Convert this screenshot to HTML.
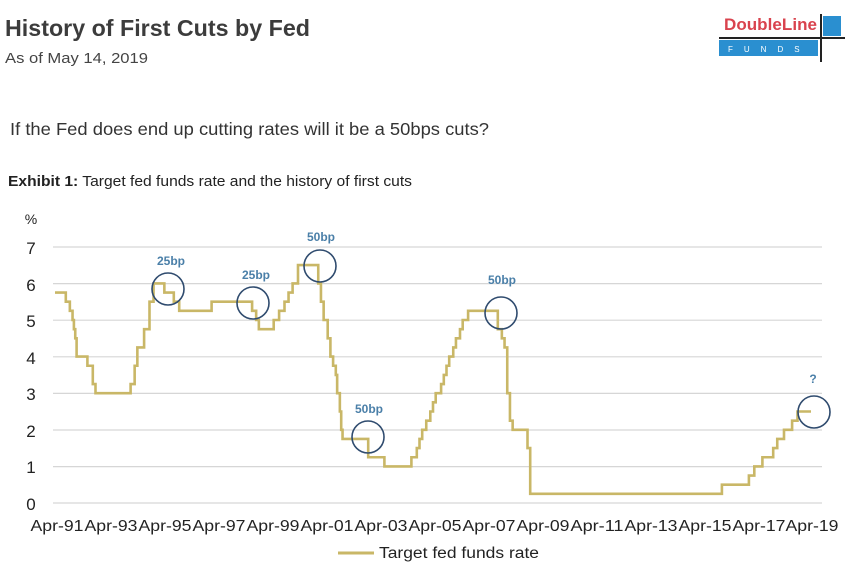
<!DOCTYPE html>
<html><head><style>
body{margin:0;background:#fff;width:864px;height:572px;overflow:hidden;font-family:"Liberation Sans",sans-serif}
</style></head><body>
<svg width="864" height="572" xmlns="http://www.w3.org/2000/svg" font-family="Liberation Sans, sans-serif">
<text x="5" y="36" font-size="23" font-weight="bold" fill="#3c3c3c" textLength="305" lengthAdjust="spacingAndGlyphs">History of First Cuts by Fed</text>
<text x="5" y="63" font-size="15" fill="#444" textLength="143" lengthAdjust="spacingAndGlyphs">As of May 14, 2019</text>
<text x="10" y="135" font-size="17.5" fill="#333" textLength="479" lengthAdjust="spacingAndGlyphs">If the Fed does end up cutting rates will it be a 50bps cuts?</text>
<text x="8" y="186" font-size="15" fill="#222" textLength="404" lengthAdjust="spacingAndGlyphs"><tspan font-weight="bold">Exhibit 1:</tspan> Target fed funds rate and the history of first cuts</text>
<!-- logo -->
<text x="724" y="30" font-size="17" font-weight="bold" fill="#d9434e" textLength="93">DoubleLine</text>
<rect x="719" y="40" width="99" height="16" fill="#2a8fd0"/>
<text x="728" y="52" font-size="8" fill="#fff" letter-spacing="11">FUNDS</text>
<rect x="823" y="16" width="18" height="20" fill="#2a8fd0"/>
<line x1="719" y1="38" x2="845" y2="38" stroke="#222" stroke-width="2"/>
<line x1="821" y1="14" x2="821" y2="62" stroke="#222" stroke-width="2"/>
<!-- grid -->
<g stroke="#d6d6d6" stroke-width="1.2">
<line x1="53" x2="822" y1="247" y2="247"/><line x1="53" x2="822" y1="283.6" y2="283.6"/>
<line x1="53" x2="822" y1="320.2" y2="320.2"/><line x1="53" x2="822" y1="356.8" y2="356.8"/>
<line x1="53" x2="822" y1="393.4" y2="393.4"/><line x1="53" x2="822" y1="430" y2="430"/>
<line x1="53" x2="822" y1="466.6" y2="466.6"/><line x1="53" x2="822" y1="503" y2="503"/>
</g>
<g font-size="17" fill="#222" text-anchor="middle">
<text x="31" y="224" font-size="14">%</text>
<text x="31" y="254">7</text><text x="31" y="291">6</text><text x="31" y="327">5</text>
<text x="31" y="364">4</text><text x="31" y="400">3</text><text x="31" y="437">2</text>
<text x="31" y="473">1</text><text x="31" y="510">0</text>
</g>
<g font-size="16" fill="#222" text-anchor="middle">
<text x="57" y="531" textLength="53" lengthAdjust="spacingAndGlyphs">Apr-91</text><text x="111" y="531" textLength="53" lengthAdjust="spacingAndGlyphs">Apr-93</text><text x="165" y="531" textLength="53" lengthAdjust="spacingAndGlyphs">Apr-95</text>
<text x="219" y="531" textLength="53" lengthAdjust="spacingAndGlyphs">Apr-97</text><text x="273" y="531" textLength="53" lengthAdjust="spacingAndGlyphs">Apr-99</text><text x="327" y="531" textLength="53" lengthAdjust="spacingAndGlyphs">Apr-01</text>
<text x="381" y="531" textLength="53" lengthAdjust="spacingAndGlyphs">Apr-03</text><text x="435" y="531" textLength="53" lengthAdjust="spacingAndGlyphs">Apr-05</text><text x="489" y="531" textLength="53" lengthAdjust="spacingAndGlyphs">Apr-07</text>
<text x="543" y="531" textLength="53" lengthAdjust="spacingAndGlyphs">Apr-09</text><text x="597" y="531" textLength="53" lengthAdjust="spacingAndGlyphs">Apr-11</text><text x="651" y="531" textLength="53" lengthAdjust="spacingAndGlyphs">Apr-13</text>
<text x="705" y="531" textLength="53" lengthAdjust="spacingAndGlyphs">Apr-15</text><text x="759" y="531" textLength="53" lengthAdjust="spacingAndGlyphs">Apr-17</text><text x="812" y="531" textLength="53" lengthAdjust="spacingAndGlyphs">Apr-19</text>
</g>
<g transform="translate(55,503) scale(27,-36.6)">
<polyline fill="none" stroke="#c9b767" stroke-width="2.6" vector-effect="non-scaling-stroke" stroke-linejoin="miter" points="
0,5.75 0.4,5.75 0.4,5.5 0.55,5.5 0.55,5.25 0.65,5.25 0.65,5 0.7,5 0.7,4.75 0.75,4.75 0.75,4.5 0.8,4.5 0.8,4 1.2,4 1.2,3.75 1.4,3.75 1.4,3.25 1.5,3.25 1.5,3 2.8,3 2.8,3.25 2.95,3.25 2.95,3.75 3.05,3.75 3.05,4.25 3.3,4.25 3.3,4.75 3.5,4.75 3.5,5.5 3.65,5.5 3.65,6 4.05,6 4.05,5.75 4.4,5.75 4.4,5.5 4.6,5.5 4.6,5.25 5.8,5.25 5.8,5.5 7.3,5.5 7.3,5.25 7.45,5.25 7.45,5 7.55,5 7.55,4.75 8.1,4.75 8.1,5 8.3,5 8.3,5.25 8.5,5.25 8.5,5.5 8.65,5.5 8.65,5.75 8.8,5.75 8.8,6 9,6 9,6.5 9.75,6.5 9.75,6 9.85,6 9.85,5.5 9.95,5.5 9.95,5 10.1,5 10.1,4.5 10.2,4.5 10.2,4 10.3,4 10.3,3.75 10.4,3.75 10.4,3.5 10.45,3.5 10.45,3 10.55,3 10.55,2.5 10.6,2.5 10.6,2 10.65,2 10.65,1.75 11.6,1.75 11.6,1.25 12.2,1.25 12.2,1 13.2,1 13.2,1.25 13.4,1.25 13.4,1.5 13.5,1.5 13.5,1.75 13.6,1.75 13.6,2 13.75,2 13.75,2.25 13.9,2.25 13.9,2.5 14,2.5 14,2.75 14.1,2.75 14.1,3 14.3,3 14.3,3.25 14.4,3.25 14.4,3.5 14.5,3.5 14.5,3.75 14.6,3.75 14.6,4 14.75,4 14.75,4.25 14.85,4.25 14.85,4.5 15,4.5 15,4.75 15.1,4.75 15.1,5 15.3,5 15.3,5.25 16.4,5.25 16.4,4.75 16.55,4.75 16.55,4.5 16.65,4.5 16.65,4.25 16.75,4.25 16.75,3 16.85,3 16.85,2.25 16.95,2.25 16.95,2 17.5,2 17.5,1.5 17.6,1.5 17.6,0.25 24.7,0.25 24.7,0.5 25.7,0.5 25.7,0.75 25.9,0.75 25.9,1 26.2,1 26.2,1.25 26.6,1.25 26.6,1.5 26.75,1.5 26.75,1.75 27,1.75 27,2 27.3,2 27.3,2.25 27.5,2.25 27.5,2.5 28,2.5"/>
</g>
<g fill="none" stroke="#2f4b6e" stroke-width="1.6">
<circle cx="168" cy="289" r="16"/><circle cx="253" cy="303" r="16"/><circle cx="320" cy="266" r="16"/>
<circle cx="368" cy="437" r="16"/><circle cx="501" cy="313" r="16"/><circle cx="814" cy="412" r="16"/>
</g>
<g font-size="12" font-weight="bold" fill="#4a7fa8" text-anchor="middle">
<text x="171" y="265">25bp</text><text x="256" y="279">25bp</text><text x="321" y="241">50bp</text>
<text x="369" y="413">50bp</text><text x="502" y="284">50bp</text><text x="813" y="383">?</text>
</g>
<line x1="338" y1="553" x2="374" y2="553" stroke="#c9b767" stroke-width="3"/>
<text x="379" y="558" font-size="15.5" fill="#222" textLength="160" lengthAdjust="spacingAndGlyphs">Target fed funds rate</text>
</svg>
</body></html>
